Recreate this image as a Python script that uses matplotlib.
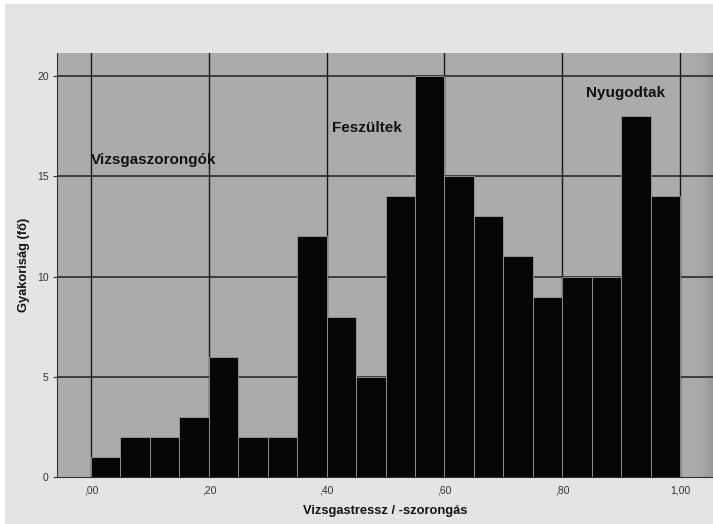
import numpy as np
import matplotlib.pyplot as plt
from matplotlib.patches import Rectangle

plt.rcParams["font.family"] = ["Liberation Sans", "DejaVu Sans"]

bin_edges = np.arange(0, 1.0001, 0.05)
counts = [1, 2, 2, 3, 6, 2, 2, 12, 8, 5, 14, 20, 15, 13, 11, 9, 10, 10, 18, 14]
x_ticks = [0.0, 0.2, 0.4, 0.6, 0.8, 1.0]
x_ticklabels = [",00", ",20", ",40", ",60", ",80", "1,00"]
y_ticks = [0, 5, 10, 15, 20]
groups = ["Vizsgaszorongók", "Feszültek", "Nyugodtak"]
group_pos = [(0.0, 15.8), (0.41, 17.4), (0.84, 19.15)]

fig = plt.figure(figsize=(7.13, 5.24), dpi=100)
fig.patch.set_facecolor("white")
fig.patches.append(Rectangle((5 / 713, 0), 1, 1 - 4 / 524, transform=fig.transFigure,
                             facecolor="#e4e4e4", edgecolor="none", zorder=-10))

ax = fig.add_axes([57 / 713, 47 / 524, 656 / 713, 424 / 524])
ax.set_facecolor("#ababab")

# soft darker band at the right edge, like the SPSS gradient
grad = np.linspace(0, 1, 200) ** 4
ax.imshow(grad[np.newaxis, :], extent=[1.0, 1.056, 0, 21.15], aspect="auto",
          cmap="Greys", vmin=-3, vmax=4, alpha=0.5, zorder=0)

ax.set_xlim(-0.0577, 1.056)
ax.set_ylim(0, 21.15)

for xv in x_ticks:
    ax.axvline(xv, color="#1a1a1a", lw=1.0, zorder=1)
for yv in y_ticks[1:]:
    ax.axhline(yv, color="#2a2a2a", lw=1.2, zorder=1)

ax.bar(bin_edges[:-1], counts, width=0.05, align="edge", color="#050508",
       edgecolor="#9a9a9a", linewidth=0.6, zorder=2)

for name, (gx, gy) in zip(groups, group_pos):
    ax.text(gx, gy, name, fontsize=11, fontweight="bold", color="#111111",
            ha="left", va="center", zorder=3)

narrow = ["Liberation Sans Narrow", "Liberation Sans"]
ax.set_xticks(x_ticks)
ax.set_xticklabels(x_ticklabels, family=narrow)
ax.set_yticks(y_ticks)
ax.set_yticklabels([str(v) for v in y_ticks], family=narrow)
ax.tick_params(axis="x", length=0, labelsize=7.5, colors="#333333", pad=6)
ax.tick_params(axis="y", length=3, labelsize=7.5, colors="#333333", pad=3)

for side in ["top", "right"]:
    ax.spines[side].set_visible(False)
ax.spines["left"].set_color("#333333")
ax.spines["bottom"].set_color("#333333")

ax.set_xlabel("Vizsgastressz / -szorongás", fontsize=9.3, fontweight="bold",
              color="#111111", labelpad=7)
ax.set_ylabel("Gyakoriság (fő)", fontsize=9.3, fontweight="bold",
              color="#111111", labelpad=5)

plt.savefig("out.png", dpi=100, facecolor=fig.get_facecolor())
